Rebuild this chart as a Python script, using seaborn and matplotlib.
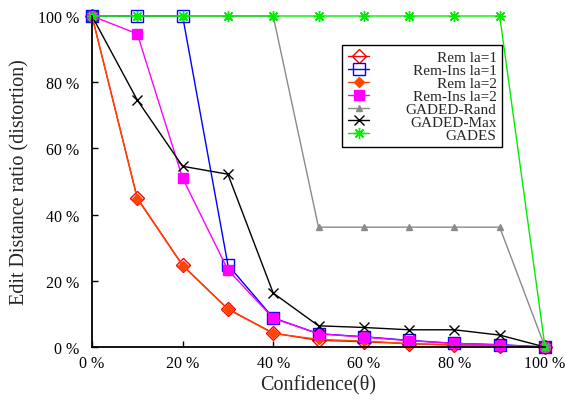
import matplotlib
matplotlib.use("Agg")
import matplotlib.pyplot as plt
from matplotlib.ticker import FuncFormatter
import seaborn as sns

confidence = [0, 10, 20, 30, 40, 50, 60, 70, 80, 90, 100]

rem_la1 = [100, 45.0, 24.7, 11.5, 4.2, 2.0, 1.6, 1.0, 0.6, 0.3, 0]
rem_ins_la1 = [100, 100, 100, 24.8, 8.8, 4.0, 3.1, 2.0, 1.1, 0.7, 0]
rem_la2 = [100, 44.8, 24.6, 11.4, 4.1, 2.3, 1.8, 1.0, 0.6, 0.3, 0]
rem_ins_la2 = [100, 94.6, 51.0, 23.3, 8.7, 4.0, 3.0, 1.9, 1.1, 0.6, 0]
gaded_rand = [100, 100, 100, 100, 100, 36.2, 36.2, 36.2, 36.2, 36.2, 0]
gaded_max = [100, 74.6, 54.6, 52.2, 16.3, 6.4, 5.9, 5.2, 5.2, 3.6, 0]
gades = [100, 100, 100, 100, 100, 100, 100, 100, 100, 100, 0]

labels = ["Rem la=1", "Rem-Ins la=1", "Rem la=2", "Rem-Ins la=2",
          "GADED-Rand", "GADED-Max", "GADES"]

sns.set_theme(style="ticks")
plt.rcParams["font.family"] = ["Liberation Serif", "DejaVu Serif"]

fig = plt.figure(figsize=(5.66, 4.06), dpi=100)
ax = fig.add_axes([92 / 566, 1 - 348 / 406, 453 / 566, 331 / 406])

styles = [
    (rem_la1, dict(color="#ff0000", marker="D", markersize=7, markerfacecolor="none")),
    (rem_ins_la1, dict(color="#0000ff", marker="s", markersize=9, markerfacecolor="none")),
    (rem_la2, dict(color="#ff4500", marker="D", markersize=5, markerfacecolor="#ff4500")),
    (rem_ins_la2, dict(color="#ff00ff", marker="s", markersize=7, markerfacecolor="#ff00ff")),
    (gaded_rand, dict(color="#8a8a8a", marker="^", markersize=5, markerfacecolor="#8a8a8a")),
    (gaded_max, dict(color="#000000", marker="x", markersize=7)),
    (gades, dict(color="#00ee00", marker=(8, 2, 0), markersize=8)),
]

for (vals, kw), lab in zip(styles, labels):
    sns.lineplot(x=confidence, y=vals, ax=ax, label=lab, linewidth=1.0,
                 markeredgecolor=kw["color"], markeredgewidth=1.0,
                 clip_on=False, **kw)

ax.set_xlim(0, 100)
ax.set_ylim(0, 100)
ax.set_xticks(range(0, 101, 20))
ax.set_yticks(range(0, 101, 20))
pct = FuncFormatter(lambda v, p: f"{int(v)} %")
ax.xaxis.set_major_formatter(pct)
ax.yaxis.set_major_formatter(pct)
ax.tick_params(direction="in", length=4, width=1, labelsize=11.5, colors="black")
ax.tick_params(axis="y", pad=9)
ax.tick_params(axis="x", pad=6)
for s in ["top", "right"]:
    ax.spines[s].set_visible(False)
for s in ["left", "bottom"]:
    ax.spines[s].set_linewidth(1.3)
    ax.spines[s].set_color("black")

ax.set_xlabel("Confidence(θ)", fontsize=14.5, labelpad=2)
ax.set_ylabel("Edit Distance ratio (distortion)", fontsize=14.5, labelpad=6)

leg = ax.legend(loc="upper right", bbox_to_anchor=(0.905, 0.912), fontsize=11,
                frameon=True, fancybox=False, edgecolor="black", framealpha=1,
                labelspacing=-0.05, handlelength=1.4, handletextpad=2.4,
                borderpad=0.35, borderaxespad=0)
leg.get_frame().set_linewidth(1.0)

# right-align legend labels while keeping the sample markers in one column
fig.canvas.draw()
r = fig.canvas.get_renderer()
to_pt = 72.0 / fig.dpi
rows = [row for col in leg._legend_handle_box.get_children() for row in col.get_children()]
widths = [row.get_children()[1]._text.get_window_extent(r).width for row in rows]
maxw = max(widths)
for row, w in zip(rows, widths):
    row.sep = row.sep + (maxw - w) * to_pt

fig.savefig("out.png", dpi=100)
